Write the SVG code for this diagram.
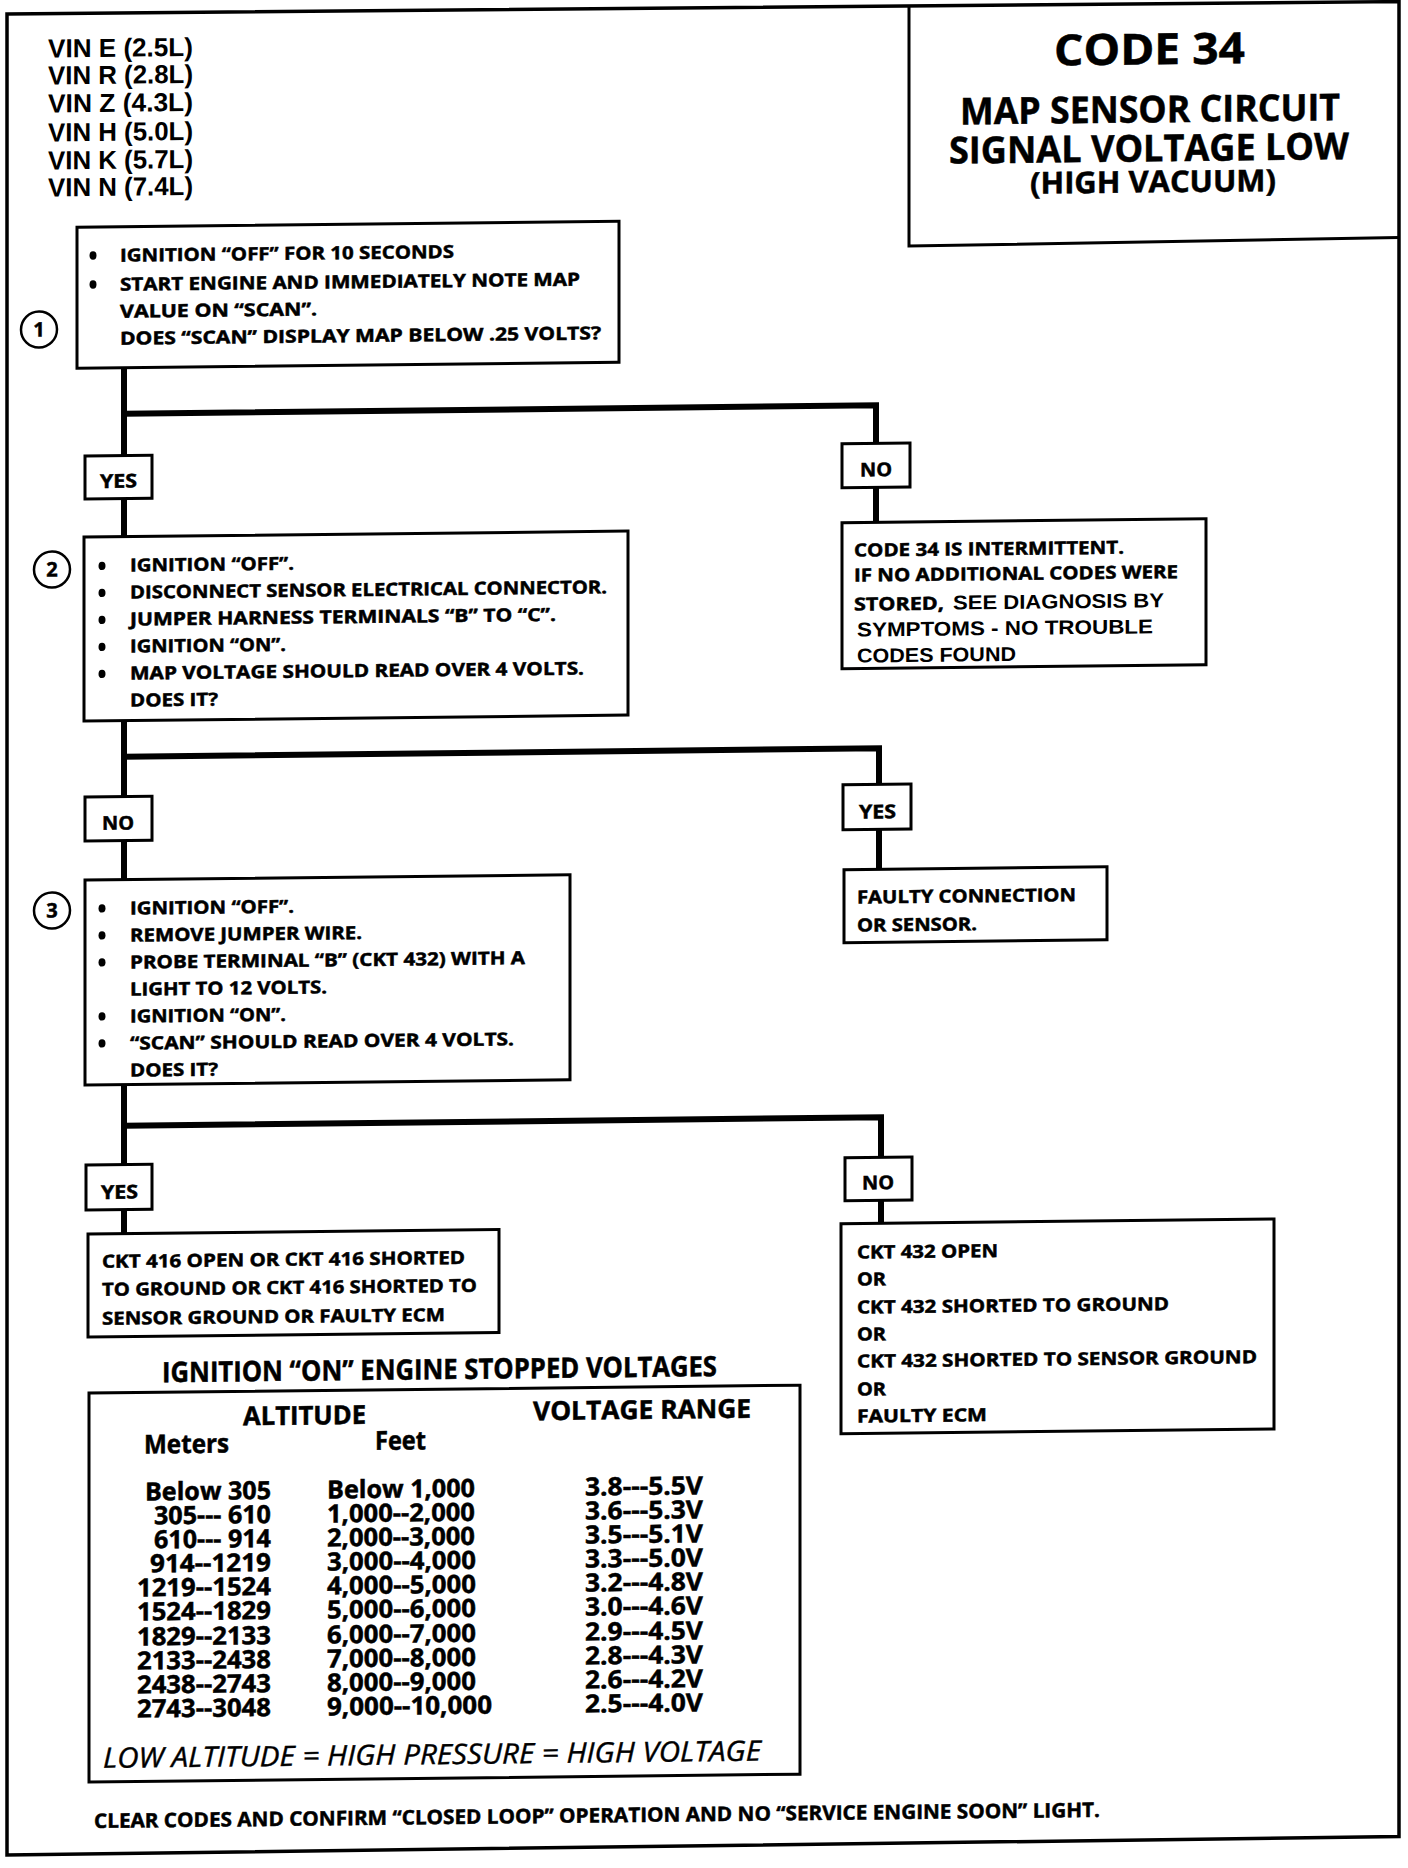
<svg xmlns="http://www.w3.org/2000/svg" width="1408" height="1868" viewBox="0 0 1408 1868">
<style>
.bx{fill:#fff;stroke:#000;stroke-width:3}
.cn{fill:none;stroke:#000;stroke-width:6;stroke-linejoin:miter}
.ci{fill:#fff;stroke:#000;stroke-width:2.5}
.t{font-family:"Open Sans","Noto Sans","DejaVu Sans",sans-serif;font-weight:700;font-size:18px;fill:#000;stroke:#000;stroke-width:0.5}
.a{font-family:"Liberation Sans",Arial,sans-serif;font-weight:700;fill:#000}
.bu{fill:#000}
.lbl{font-size:19px}
.row{font-size:25px}
</style>
<rect width="1408" height="1868" fill="#fff"/>
<g transform="matrix(1,-0.011,0,1,0,0)">
<g id="frame">
<path d="M7,14 L1399,17 L1399,1852 L7,1855 Z" fill="none" stroke="#000" stroke-width="3.5"/>
</g>
<g id="title">
<path d="M909,16 V256 L1399,253" fill="none" stroke="#000" stroke-width="3"/>
<text class="t" x="1054" y="77" style="font-size:43px" textLength="191" lengthAdjust="spacingAndGlyphs">CODE 34</text>
<text class="t" x="960" y="135" style="font-size:37px" textLength="380" lengthAdjust="spacingAndGlyphs">MAP SENSOR CIRCUIT</text>
<text class="t" x="949" y="174" style="font-size:37px" textLength="400" lengthAdjust="spacingAndGlyphs">SIGNAL VOLTAGE LOW</text>
<text class="t" x="1030" y="205" style="font-size:30px" textLength="246" lengthAdjust="spacingAndGlyphs">(HIGH VACUUM)</text>
</g>
<g id="vin">
<text class="a" x="48" y="58" font-size="26" textLength="145" lengthAdjust="spacingAndGlyphs">VIN E (2.5L)</text>
<text class="a" x="48" y="85" font-size="26" textLength="145" lengthAdjust="spacingAndGlyphs">VIN R (2.8L)</text>
<text class="a" x="48" y="113" font-size="26" textLength="145" lengthAdjust="spacingAndGlyphs">VIN Z (4.3L)</text>
<text class="a" x="48" y="142" font-size="26" textLength="145" lengthAdjust="spacingAndGlyphs">VIN H (5.0L)</text>
<text class="a" x="48" y="170" font-size="26" textLength="145" lengthAdjust="spacingAndGlyphs">VIN K (5.7L)</text>
<text class="a" x="48" y="197" font-size="26" textLength="145" lengthAdjust="spacingAndGlyphs">VIN N (7.4L)</text>
</g>
<g id="connectors">
<path class="cn" d="M124,369 V457"/>
<path class="cn" d="M124,500 V538"/>
<path class="cn" d="M124,415 H876 V453"/>
<path class="cn" d="M876,497 V532"/>
<path class="cn" d="M124,722 V798"/>
<path class="cn" d="M124,842 V881"/>
<path class="cn" d="M124,758 H879 V794"/>
<path class="cn" d="M879,839 V879"/>
<path class="cn" d="M124,1086 V1166"/>
<path class="cn" d="M124,1211 V1235"/>
<path class="cn" d="M124,1127 H881 V1167"/>
<path class="cn" d="M881,1210 V1233"/>
</g>
<g id="step1">
<rect class="bx" x="77" y="228" width="542" height="141"/>
<circle class="ci" cx="39" cy="330" r="18"/>
<text class="t" x="39" y="337" text-anchor="middle" style="font-size:20px">1</text>
<ellipse class="bu" cx="93" cy="256.5" rx="3.5" ry="4.2"/>
<ellipse class="bu" cx="93" cy="285.5" rx="3.5" ry="4.2"/>
<text class="t" x="120" y="263" textLength="334" lengthAdjust="spacingAndGlyphs">IGNITION “OFF” FOR 10 SECONDS</text>
<text class="t" x="120" y="292" textLength="460" lengthAdjust="spacingAndGlyphs">START ENGINE AND IMMEDIATELY NOTE MAP</text>
<text class="t" x="120" y="319" textLength="197" lengthAdjust="spacingAndGlyphs">VALUE ON “SCAN”.</text>
<text class="t" x="120" y="346" textLength="481" lengthAdjust="spacingAndGlyphs">DOES “SCAN” DISPLAY MAP BELOW .25 VOLTS?</text>
</g>
<g id="yes1">
<rect class="bx" x="85" y="457" width="67" height="43"/>
<text class="t lbl" x="100" y="489" textLength="37" lengthAdjust="spacingAndGlyphs">YES</text>
</g>
<g id="no1">
<rect class="bx" x="842" y="453" width="68" height="44"/>
<text class="t lbl" x="860" y="486" textLength="32" lengthAdjust="spacingAndGlyphs">NO</text>
</g>
<g id="result-intermittent">
<rect class="bx" x="842" y="532" width="364" height="146"/>
<text class="t" x="854" y="566" textLength="270" lengthAdjust="spacingAndGlyphs">CODE 34 IS INTERMITTENT.</text>
<text class="t" x="854" y="591" textLength="324" lengthAdjust="spacingAndGlyphs">IF NO ADDITIONAL CODES WERE</text>
<text class="t" x="854" y="620" textLength="90" lengthAdjust="spacingAndGlyphs">STORED,</text>
<text class="a" x="953" y="620" font-size="20" textLength="211" lengthAdjust="spacingAndGlyphs">SEE DIAGNOSIS BY</text>
<text class="a" x="857" y="646" font-size="20" textLength="296" lengthAdjust="spacingAndGlyphs">SYMPTOMS  - NO TROUBLE</text>
<text class="a" x="857" y="672" font-size="20" textLength="159" lengthAdjust="spacingAndGlyphs">CODES FOUND</text>
</g>
<g id="step2">
<rect class="bx" x="84" y="538" width="544" height="184"/>
<circle class="ci" cx="52" cy="570" r="18"/>
<text class="t" x="52" y="577" text-anchor="middle" style="font-size:20px">2</text>
<ellipse class="bu" cx="102" cy="567" rx="3.5" ry="4.2"/>
<ellipse class="bu" cx="102" cy="594" rx="3.5" ry="4.2"/>
<ellipse class="bu" cx="102" cy="621" rx="3.5" ry="4.2"/>
<ellipse class="bu" cx="102" cy="648" rx="3.5" ry="4.2"/>
<ellipse class="bu" cx="102" cy="675" rx="3.5" ry="4.2"/>
<text class="t" x="130" y="573" textLength="164" lengthAdjust="spacingAndGlyphs">IGNITION “OFF”.</text>
<text class="t" x="130" y="600" textLength="477" lengthAdjust="spacingAndGlyphs">DISCONNECT SENSOR ELECTRICAL CONNECTOR.</text>
<text class="t" x="130" y="627" textLength="426" lengthAdjust="spacingAndGlyphs">JUMPER HARNESS TERMINALS “B” TO “C”.</text>
<text class="t" x="130" y="654" textLength="156" lengthAdjust="spacingAndGlyphs">IGNITION “ON”.</text>
<text class="t" x="130" y="681" textLength="454" lengthAdjust="spacingAndGlyphs">MAP VOLTAGE SHOULD READ OVER 4 VOLTS.</text>
<text class="t" x="130" y="708" textLength="88" lengthAdjust="spacingAndGlyphs">DOES IT?</text>
</g>
<g id="no2">
<rect class="bx" x="85" y="798" width="67" height="44"/>
<text class="t lbl" x="102" y="831" textLength="32" lengthAdjust="spacingAndGlyphs">NO</text>
</g>
<g id="yes2">
<rect class="bx" x="843" y="794" width="68" height="45"/>
<text class="t lbl" x="859" y="828" textLength="37" lengthAdjust="spacingAndGlyphs">YES</text>
</g>
<g id="result-faulty">
<rect class="bx" x="844" y="879" width="263" height="73"/>
<text class="t" x="857" y="913" textLength="219" lengthAdjust="spacingAndGlyphs">FAULTY CONNECTION</text>
<text class="t" x="857" y="941" textLength="120" lengthAdjust="spacingAndGlyphs">OR SENSOR.</text>
</g>
<g id="step3">
<rect class="bx" x="85" y="881" width="485" height="205"/>
<circle class="ci" cx="52" cy="911" r="18"/>
<text class="t" x="52" y="918" text-anchor="middle" style="font-size:20px">3</text>
<ellipse class="bu" cx="102" cy="909.5" rx="3.5" ry="4.2"/>
<ellipse class="bu" cx="102" cy="936.5" rx="3.5" ry="4.2"/>
<ellipse class="bu" cx="102" cy="963.5" rx="3.5" ry="4.2"/>
<ellipse class="bu" cx="102" cy="1017.5" rx="3.5" ry="4.2"/>
<ellipse class="bu" cx="102" cy="1044.5" rx="3.5" ry="4.2"/>
<text class="t" x="130" y="916" textLength="164" lengthAdjust="spacingAndGlyphs">IGNITION “OFF”.</text>
<text class="t" x="130" y="943" textLength="232" lengthAdjust="spacingAndGlyphs">REMOVE JUMPER WIRE.</text>
<text class="t" x="130" y="970" textLength="395" lengthAdjust="spacingAndGlyphs">PROBE TERMINAL “B” (CKT 432) WITH A</text>
<text class="t" x="130" y="997" textLength="197" lengthAdjust="spacingAndGlyphs">LIGHT TO 12 VOLTS.</text>
<text class="t" x="130" y="1024" textLength="156" lengthAdjust="spacingAndGlyphs">IGNITION “ON”.</text>
<text class="t" x="130" y="1051" textLength="384" lengthAdjust="spacingAndGlyphs">“SCAN” SHOULD READ OVER 4 VOLTS.</text>
<text class="t" x="130" y="1078" textLength="88" lengthAdjust="spacingAndGlyphs">DOES IT?</text>
</g>
<g id="yes3">
<rect class="bx" x="86" y="1166" width="66" height="45"/>
<text class="t lbl" x="101" y="1200" textLength="37" lengthAdjust="spacingAndGlyphs">YES</text>
</g>
<g id="no3">
<rect class="bx" x="845" y="1167" width="67" height="43"/>
<text class="t lbl" x="862" y="1199" textLength="32" lengthAdjust="spacingAndGlyphs">NO</text>
</g>
<g id="result-ckt416">
<rect class="bx" x="88" y="1235" width="411" height="103"/>
<text class="t" x="102" y="1269" textLength="363" lengthAdjust="spacingAndGlyphs">CKT 416 OPEN OR  CKT 416 SHORTED</text>
<text class="t" x="102" y="1297" textLength="375" lengthAdjust="spacingAndGlyphs">TO GROUND OR CKT 416 SHORTED TO</text>
<text class="t" x="102" y="1326" textLength="343" lengthAdjust="spacingAndGlyphs">SENSOR GROUND OR FAULTY ECM</text>
</g>
<g id="result-ckt432">
<rect class="bx" x="841" y="1233" width="433" height="210"/>
<text class="t" x="857" y="1268" textLength="141" lengthAdjust="spacingAndGlyphs">CKT 432 OPEN</text>
<text class="t" x="857" y="1295" textLength="29" lengthAdjust="spacingAndGlyphs">OR</text>
<text class="t" x="857" y="1323" textLength="312" lengthAdjust="spacingAndGlyphs">CKT 432 SHORTED TO GROUND</text>
<text class="t" x="857" y="1350" textLength="29" lengthAdjust="spacingAndGlyphs">OR</text>
<text class="t" x="857" y="1377" textLength="400" lengthAdjust="spacingAndGlyphs">CKT 432 SHORTED TO SENSOR GROUND</text>
<text class="t" x="857" y="1405" textLength="29" lengthAdjust="spacingAndGlyphs">OR</text>
<text class="t" x="857" y="1432" textLength="130" lengthAdjust="spacingAndGlyphs">FAULTY ECM</text>
</g>
<g id="voltage-table">
<text class="t" x="162" y="1384" style="font-size:28px" textLength="555" lengthAdjust="spacingAndGlyphs">IGNITION “ON” ENGINE STOPPED VOLTAGES</text>
<rect class="bx" x="89" y="1394" width="711" height="389"/>
<text class="t" x="243" y="1428" style="font-size:26px" textLength="123" lengthAdjust="spacingAndGlyphs">ALTITUDE</text>
<text class="t" x="533" y="1426" style="font-size:26px" textLength="218" lengthAdjust="spacingAndGlyphs">VOLTAGE RANGE</text>
<text class="t" x="144" y="1455" style="font-size:26px" textLength="85" lengthAdjust="spacingAndGlyphs">Meters</text>
<text class="t" x="375" y="1454" style="font-size:26px" textLength="51" lengthAdjust="spacingAndGlyphs">Feet</text>
<g class="t row" text-anchor="end">
<text x="271" y="1502" textLength="126" lengthAdjust="spacingAndGlyphs">Below 305</text>
<text x="271" y="1526" textLength="117" lengthAdjust="spacingAndGlyphs">305--- 610</text>
<text x="271" y="1550" textLength="117" lengthAdjust="spacingAndGlyphs">610--- 914</text>
<text x="271" y="1574" textLength="121" lengthAdjust="spacingAndGlyphs">914--1219</text>
<text x="271" y="1598" textLength="134" lengthAdjust="spacingAndGlyphs">1219--1524</text>
<text x="271" y="1622" textLength="134" lengthAdjust="spacingAndGlyphs">1524--1829</text>
<text x="271" y="1647" textLength="134" lengthAdjust="spacingAndGlyphs">1829--2133</text>
<text x="271" y="1671" textLength="134" lengthAdjust="spacingAndGlyphs">2133--2438</text>
<text x="271" y="1695" textLength="134" lengthAdjust="spacingAndGlyphs">2438--2743</text>
<text x="271" y="1719" textLength="134" lengthAdjust="spacingAndGlyphs">2743--3048</text>
</g>
<g class="t row">
<text x="327" y="1502" textLength="148" lengthAdjust="spacingAndGlyphs">Below 1,000</text>
<text x="327" y="1526" textLength="148" lengthAdjust="spacingAndGlyphs">1,000--2,000</text>
<text x="327" y="1550" textLength="148" lengthAdjust="spacingAndGlyphs">2,000--3,000</text>
<text x="327" y="1574" textLength="149" lengthAdjust="spacingAndGlyphs">3,000--4,000</text>
<text x="327" y="1598" textLength="149" lengthAdjust="spacingAndGlyphs">4,000--5,000</text>
<text x="327" y="1622" textLength="149" lengthAdjust="spacingAndGlyphs">5,000--6,000</text>
<text x="327" y="1647" textLength="149" lengthAdjust="spacingAndGlyphs">6,000--7,000</text>
<text x="327" y="1671" textLength="149" lengthAdjust="spacingAndGlyphs">7,000--8,000</text>
<text x="327" y="1695" textLength="149" lengthAdjust="spacingAndGlyphs">8,000--9,000</text>
<text x="327" y="1719" textLength="165" lengthAdjust="spacingAndGlyphs">9,000--10,000</text>
</g>
<g class="t row">
<text x="585" y="1502" textLength="118" lengthAdjust="spacingAndGlyphs">3.8---5.5V</text>
<text x="585" y="1526" textLength="118" lengthAdjust="spacingAndGlyphs">3.6---5.3V</text>
<text x="585" y="1550" textLength="118" lengthAdjust="spacingAndGlyphs">3.5---5.1V</text>
<text x="585" y="1574" textLength="118" lengthAdjust="spacingAndGlyphs">3.3---5.0V</text>
<text x="585" y="1598" textLength="118" lengthAdjust="spacingAndGlyphs">3.2---4.8V</text>
<text x="585" y="1622" textLength="118" lengthAdjust="spacingAndGlyphs">3.0---4.6V</text>
<text x="585" y="1647" textLength="118" lengthAdjust="spacingAndGlyphs">2.9---4.5V</text>
<text x="585" y="1671" textLength="118" lengthAdjust="spacingAndGlyphs">2.8---4.3V</text>
<text x="585" y="1695" textLength="118" lengthAdjust="spacingAndGlyphs">2.6---4.2V</text>
<text x="585" y="1719" textLength="118" lengthAdjust="spacingAndGlyphs">2.5---4.0V</text>
</g>
<text x="103" y="1769" font-family="Open Sans, Noto Sans, sans-serif" font-style="italic" font-weight="400" font-size="28" stroke="#000" stroke-width="0.4" textLength="658" lengthAdjust="spacingAndGlyphs">LOW ALTITUDE = HIGH PRESSURE = HIGH VOLTAGE</text>
</g>
<g id="footer">
<text class="t" x="94" y="1829" style="font-size:20px" textLength="1006" lengthAdjust="spacingAndGlyphs">CLEAR CODES AND CONFIRM “CLOSED LOOP” OPERATION AND NO “SERVICE ENGINE SOON” LIGHT.</text>
</g>
</g>
</svg>
